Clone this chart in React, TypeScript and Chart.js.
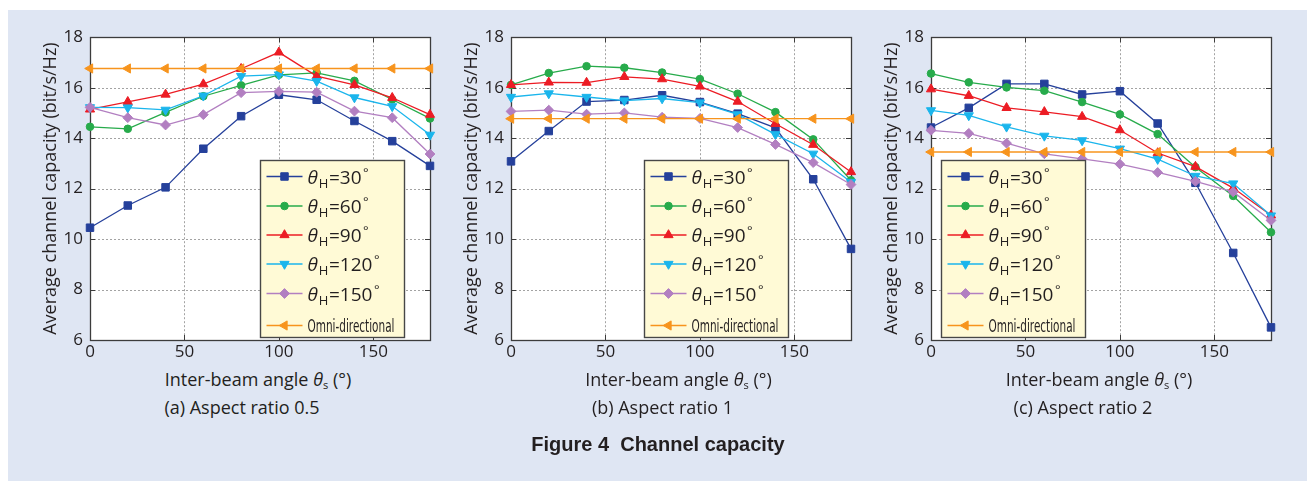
import React, { useEffect, useRef } from "react";
import { Chart, registerables } from "chart.js";

Chart.register(...registerables);

// ---------- data ----------
const ANGLES = [0, 20, 40, 60, 80, 100, 120, 140, 160, 180];
const X_TICKS = [0, 50, 100, 150];
const Y_TICKS = [6, 8, 10, 12, 14, 16, 18];
const SERIES_ANGLES = ["30", "60", "90", "120", "150"];
const OMNI_LABEL = "Omni-directional";
const Y_TITLE = "Average channel capacity (bit/s/Hz)";
const CAPTIONS = ["(a) Aspect ratio 0.5", "(b) Aspect ratio 1", "(c) Aspect ratio 2"];
const FIGURE_TITLE = "Figure 4  Channel capacity";

// (a) aspect ratio 0.5
const A_H30 = [10.45, 11.33, 12.05, 13.58, 14.87, 15.72, 15.52, 14.68, 13.88, 12.9];
const A_H60 = [14.45, 14.37, 15.02, 15.66, 16.09, 16.51, 16.59, 16.27, 15.53, 14.78];
const A_H90 = [15.14, 15.44, 15.73, 16.14, 16.75, 17.4, 16.46, 16.11, 15.6, 14.93];
const A_H120 = [15.22, 15.21, 15.12, 15.68, 16.46, 16.52, 16.26, 15.61, 15.26, 14.13];
const A_H150 = [15.22, 14.81, 14.52, 14.93, 15.8, 15.85, 15.82, 15.07, 14.81, 13.37];
const A_OMNI = [16.76, 16.76, 16.76, 16.76, 16.76, 16.76, 16.76, 16.76, 16.76, 16.76];

// (b) aspect ratio 1
const B_H30 = [13.08, 14.28, 15.45, 15.51, 15.7, 15.43, 14.97, 14.41, 12.37, 9.61];
const B_H60 = [16.11, 16.58, 16.85, 16.79, 16.6, 16.34, 15.76, 15.03, 13.95, 12.33];
const B_H90 = [16.11, 16.21, 16.2, 16.43, 16.34, 16.05, 15.45, 14.57, 13.74, 12.66];
const B_H120 = [15.63, 15.77, 15.63, 15.49, 15.57, 15.41, 14.94, 14.15, 13.38, 12.26];
const B_H150 = [15.06, 15.11, 14.95, 15.0, 14.83, 14.78, 14.42, 13.75, 13.03, 12.16];
const B_OMNI = [14.77, 14.77, 14.77, 14.77, 14.77, 14.77, 14.77, 14.77, 14.77, 14.77];

// (c) aspect ratio 2
const C_H30 = [14.42, 15.2, 16.15, 16.15, 15.73, 15.86, 14.58, 12.23, 9.45, 6.5];
const C_H60 = [16.56, 16.21, 16.01, 15.88, 15.43, 14.94, 14.16, 12.85, 11.71, 10.27];
const C_H90 = [15.94, 15.68, 15.2, 15.04, 14.85, 14.32, 13.41, 12.87, 12.02, 10.94];
const C_H120 = [15.1, 14.9, 14.45, 14.09, 13.91, 13.58, 13.17, 12.5, 12.2, 10.93];
const C_H150 = [14.31, 14.19, 13.8, 13.38, 13.18, 12.97, 12.64, 12.29, 11.87, 10.74];
const C_OMNI = [13.45, 13.45, 13.45, 13.45, 13.45, 13.45, 13.45, 13.45, 13.45, 13.45];

// ---------- styles ----------
const COLORS = ["#25409b", "#27ab4b", "#ec1c24", "#1ab5ec", "#b27fc1", "#f7941d"];
const MARKERS = ["rect", "circle", "up", "down", "diamond", "left"];
const FONT = '"Open Sans", "Noto Sans", sans-serif';
const NARROW = '"Liberation Sans Narrow", "DejaVu Sans Condensed", "Roboto", sans-serif';
const TEXT = "#231f20";

const CHART_TOP = 37;
const CHART_W = 340;
const CHART_H = 303;
const Y_AXIS_W = 75;
const CANVAS_TOP = 20;
const PAD_RIGHT = 8;
const CANVAS_H = 347;

const PANELS = [
  { chartLeft: 90, data: [A_H30, A_H60, A_H90, A_H120, A_H150, A_OMNI], legendLeft: 260, caption: CAPTIONS[0] },
  { chartLeft: 510.5, data: [B_H30, B_H60, B_H90, B_H120, B_H150, B_OMNI], legendLeft: 643, caption: CAPTIONS[1] },
  { chartLeft: 931, data: [C_H30, C_H60, C_H90, C_H120, C_H150, C_OMNI], legendLeft: 941, caption: CAPTIONS[2] },
];

const LEGEND_TOP = 160;
const LEGEND_W = 144;
const LEGEND_H = 177;

function chartStyle(kind: string) {
  switch (kind) {
    case "rect":
      return { pointStyle: "rect", radius: 5.3, rotation: 0 };
    case "circle":
      return { pointStyle: "circle", radius: 3.8, rotation: 0 };
    case "up":
      return { pointStyle: "triangle", radius: 5.3, rotation: 0 };
    case "down":
      return { pointStyle: "triangle", radius: 5.3, rotation: 180 };
    case "diamond":
      return { pointStyle: "rectRot", radius: 4.9, rotation: 0 };
    default:
      return { pointStyle: "triangle", radius: 5.3, rotation: -90 };
  }
}

function drawMarker(ctx: CanvasRenderingContext2D, kind: string, x: number, y: number, color: string) {
  ctx.save();
  ctx.fillStyle = color;
  ctx.strokeStyle = color;
  ctx.lineWidth = 1;
  ctx.beginPath();
  const tri = (r: number, rot: number) => {
    for (let i = 0; i < 3; i++) {
      const a = rot + (i * 2 * Math.PI) / 3;
      const px = x + Math.sin(a) * r;
      const py = y - Math.cos(a) * r;
      if (i === 0) ctx.moveTo(px, py);
      else ctx.lineTo(px, py);
    }
    ctx.closePath();
  };
  if (kind === "rect") {
    const s = 5.3 * Math.SQRT1_2;
    ctx.rect(x - s, y - s, 2 * s, 2 * s);
  } else if (kind === "circle") {
    ctx.arc(x, y, 3.8, 0, Math.PI * 2);
  } else if (kind === "up") {
    tri(5.3, 0);
  } else if (kind === "down") {
    tri(5.3, Math.PI);
  } else if (kind === "diamond") {
    const r = 4.9;
    ctx.moveTo(x, y - r);
    ctx.lineTo(x + r, y);
    ctx.lineTo(x, y + r);
    ctx.lineTo(x - r, y);
    ctx.closePath();
  } else {
    tri(5.3, -Math.PI / 2);
  }
  ctx.fill();
  ctx.stroke();
  ctx.restore();
}

function Panel({ panel, index }: { panel: (typeof PANELS)[number]; index: number }) {
  const ref = useRef<HTMLCanvasElement | null>(null);
  const canvasLeft = panel.chartLeft - Y_AXIS_W;
  const canvasW = Y_AXIS_W + CHART_W + PAD_RIGHT;

  useEffect(() => {
    if (!ref.current) return;
    const labels = [...SERIES_ANGLES.map((a) => "θH=" + a + "°"), OMNI_LABEL];
    const datasets = panel.data.map((vals, i) => {
      const st = chartStyle(MARKERS[i]);
      return {
        label: labels[i],
        data: ANGLES.map((a, j) => ({ x: a, y: vals[j] })),
        borderColor: COLORS[i],
        backgroundColor: COLORS[i],
        borderWidth: 1.3,
        pointStyle: st.pointStyle,
        pointRadius: st.radius,
        pointRotation: st.rotation,
        pointBorderWidth: 1,
        pointBackgroundColor: COLORS[i],
        pointBorderColor: COLORS[i],
        tension: 0,
        clip: false as any,
        order: 5 - i,
      };
    });

    const frame = {
      id: "frame" + index,
      beforeDatasetsDraw(chart: any) {
        const { ctx, chartArea: a, scales } = chart;
        const xs = scales.x;
        const ys = scales.y;
        ctx.save();
        ctx.fillStyle = "#ffffff";
        ctx.fillRect(a.left, a.top, a.right - a.left, a.bottom - a.top);
        ctx.strokeStyle = "#a3a3a3";
        ctx.lineWidth = 1;
        ctx.setLineDash([2, 2]);
        X_TICKS.forEach((v) => {
          if (v <= xs.min || v >= xs.max) return;
          const px = Math.round(xs.getPixelForValue(v)) + 0.5;
          ctx.beginPath();
          ctx.moveTo(px, a.top);
          ctx.lineTo(px, a.bottom);
          ctx.stroke();
        });
        Y_TICKS.forEach((v) => {
          if (v <= ys.min || v >= ys.max) return;
          const py = Math.round(ys.getPixelForValue(v)) + 0.5;
          ctx.beginPath();
          ctx.moveTo(a.left, py);
          ctx.lineTo(a.right, py);
          ctx.stroke();
        });
        ctx.setLineDash([]);
        ctx.strokeStyle = "#3c3c3c";
        ctx.lineWidth = 1;
        const tl = 5;
        X_TICKS.forEach((v) => {
          if (v <= xs.min || v >= xs.max) return;
          const px = Math.round(xs.getPixelForValue(v)) + 0.5;
          ctx.beginPath();
          ctx.moveTo(px, a.bottom);
          ctx.lineTo(px, a.bottom - tl);
          ctx.moveTo(px, a.top);
          ctx.lineTo(px, a.top + tl);
          ctx.stroke();
        });
        Y_TICKS.forEach((v) => {
          if (v <= ys.min || v >= ys.max) return;
          const py = Math.round(ys.getPixelForValue(v)) + 0.5;
          ctx.beginPath();
          ctx.moveTo(a.left, py);
          ctx.lineTo(a.left + tl, py);
          ctx.moveTo(a.right, py);
          ctx.lineTo(a.right - tl, py);
          ctx.stroke();
        });
        ctx.lineWidth = 1.3;
        ctx.strokeRect(Math.round(a.left) + 0.5, Math.round(a.top) + 0.5, Math.round(a.right - a.left), Math.round(a.bottom - a.top));
        ctx.restore();
      },
      afterDatasetsDraw(chart: any) {
        const { ctx } = chart;
        const bx = Math.round(panel.legendLeft - canvasLeft) + 0.5;
        const by = LEGEND_TOP - CANVAS_TOP + 0.5;
        ctx.save();
        ctx.fillStyle = "#fffad6";
        ctx.strokeStyle = "#474747";
        ctx.lineWidth = 1.4;
        ctx.fillRect(bx, by, LEGEND_W, LEGEND_H);
        ctx.strokeRect(bx, by, LEGEND_W, LEGEND_H);
        const rows = [16, 45.5, 74.5, 103.5, 133, 165];
        rows.forEach((ry, i) => {
          const y = by + ry;
          ctx.strokeStyle = COLORS[i];
          ctx.lineWidth = 1.3;
          ctx.beginPath();
          ctx.moveTo(bx + 6, y);
          ctx.lineTo(bx + 42, y);
          ctx.stroke();
          drawMarker(ctx, MARKERS[i], bx + 24, y, COLORS[i]);
          ctx.fillStyle = TEXT;
          ctx.textBaseline = "alphabetic";
          ctx.textAlign = "left";
          let tx = bx + 47;
          if (i < 5) {
            ctx.font = "italic 19px " + FONT;
            ctx.fillText("θ", tx, y + 7);
            tx += ctx.measureText("θ").width + 1;
            ctx.font = "13px " + FONT;
            ctx.fillText("H", tx, y + 11);
            tx += ctx.measureText("H").width + 0.5;
            ctx.font = "19px " + FONT;
            const rest = "=" + SERIES_ANGLES[i];
            ctx.fillText(rest, tx, y + 7);
            tx += ctx.measureText(rest).width + 1.5;
            ctx.font = "13px " + FONT;
            ctx.fillText("°", tx, y + 0);
          } else {
            ctx.font = "17px " + NARROW;
            const w = ctx.measureText(OMNI_LABEL).width;
            const target = 87;
            ctx.save();
            ctx.translate(tx, y + 6);
            ctx.scale(target / w, 1);
            ctx.fillText(OMNI_LABEL, 0, 0);
            ctx.restore();
          }
        });
        ctx.restore();
      },
    };

    const chart = new Chart(ref.current, {
      type: "line",
      data: { datasets: datasets as any },
      options: {
        animation: false,
        responsive: false,
        maintainAspectRatio: false,
        layout: { padding: { top: CHART_TOP - CANVAS_TOP, right: PAD_RIGHT, left: 0, bottom: 0 } },
        plugins: { legend: { display: false }, tooltip: { enabled: false } },
        scales: {
          x: {
            type: "linear",
            min: 0,
            max: 180,
            grid: { display: false, drawTicks: false },
            border: { display: false },
            ticks: {
              stepSize: 50,
              includeBounds: false,
              padding: 2,
              color: TEXT,
              font: { family: FONT, size: 17 },
              maxRotation: 0,
            },
            afterBuildTicks: (s: any) => {
              s.ticks = X_TICKS.map((v) => ({ value: v }));
            },
            afterFit: (s: any) => {
              s.height = CANVAS_H - (CHART_TOP - CANVAS_TOP) - CHART_H;
            },
          },
          y: {
            type: "linear",
            min: 6,
            max: 18,
            grid: { display: false, drawTicks: false },
            border: { display: false },
            ticks: {
              stepSize: 2,
              padding: 7,
              color: TEXT,
              font: { family: FONT, size: 17 },
            },
            afterBuildTicks: (s: any) => {
              s.ticks = Y_TICKS.map((v) => ({ value: v }));
            },
            title: {
              display: true,
              text: Y_TITLE,
              color: TEXT,
              font: { family: FONT, size: 18 },
              padding: { top: 25, bottom: 0 },
            },
            afterFit: (s: any) => {
              s.width = Y_AXIS_W;
            },
          },
        },
      },
      plugins: [frame as any],
    });
    return () => chart.destroy();
  }, []);

  const center = panel.chartLeft + CHART_W / 2;
  return (
    <>
      <canvas
        ref={ref}
        width={canvasW}
        height={CANVAS_H}
        style={{ position: "absolute", left: canvasLeft, top: CANVAS_TOP, width: canvasW, height: CANVAS_H }}
      />
      <div style={{ ...label, left: center - 2, top: 380, fontSize: 18 }}>
        Inter-beam angle <i>θ</i>
        <sub style={{ fontSize: 11, verticalAlign: "-3px" }}>s</sub> (°)
      </div>
      <div style={{ ...label, left: center - 18, top: 407, fontSize: 18 }}>{panel.caption}</div>
    </>
  );
}

const label: React.CSSProperties = {
  position: "absolute",
  transform: "translate(-50%, -50%)",
  whiteSpace: "pre",
  fontFamily: FONT,
  color: TEXT,
  lineHeight: 1,
};

export default function App() {
  return (
    <div style={{ position: "absolute", left: 0, top: 0, width: 1307, height: 481, overflow: "hidden", background: "#ffffff" }}>
      <div style={{ position: "absolute", left: 8, top: 10, right: 0, bottom: 0, background: "#dfe6f3" }} />
      {PANELS.map((p, i) => (
        <Panel key={i} panel={p} index={i} />
      ))}
      <div style={{ ...label, left: 658, top: 444, fontSize: 20, fontWeight: 700, fontFamily: '"Liberation Sans", Arial, sans-serif' }}>
        {FIGURE_TITLE}
      </div>
    </div>
  );
}
